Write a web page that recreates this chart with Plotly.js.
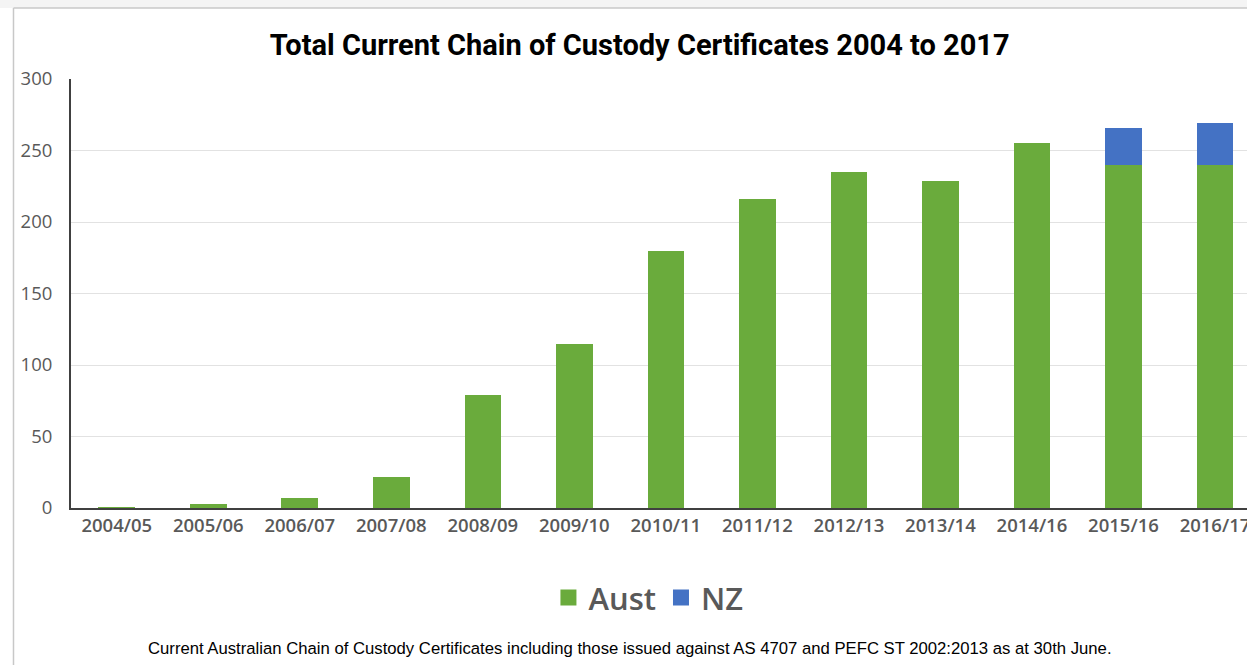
<!DOCTYPE html>
<html>
<head>
<meta charset="utf-8">
<script src="https://cdn.plot.ly/plotly-3.0.1.min.js"></script>
<style>
html,body{margin:0;padding:0;background:#fff;}
#chart{width:1247px;height:665px;}
</style>
</head>
<body>
<div id="chart"></div>
<script>
const categories = ["2004/05","2005/06","2006/07","2007/08","2008/09","2009/10","2010/11","2011/12","2012/13","2013/14","2014/16","2015/16","2016/17"];
const aust = [1, 3, 7, 22, 79, 115, 180, 216, 235, 229, 255, 240, 240];
const nz = [0, 0, 0, 0, 0, 0, 0, 0, 0, 0, 0, 26, 29];
const yTicks = [0, 50, 100, 150, 200, 250, 300];
const seriesNames = ["Aust", "NZ"];
const seriesColors = ["#6aab3c", "#4472c4"];
const titleText = "Total Current Chain of Custody Certificates 2004 to 2017";
const captionText = "Current Australian Chain of Custody Certificates including those issued against AS 4707 and PEFC ST 2002:2013 as at 30th June.";

const traces = [
  {type:'bar', name:seriesNames[0], x:categories, y:aust, marker:{color:seriesColors[0]}, showlegend:false},
  {type:'bar', name:seriesNames[1], x:categories, y:nz, marker:{color:seriesColors[1]}, showlegend:false},
  // legend entries with larger square swatches
  {type:'scatter', mode:'markers', name:seriesNames[0], x:[null], y:[null], marker:{symbol:'square', size:23, color:seriesColors[0]}, showlegend:true},
  {type:'scatter', mode:'markers', name:seriesNames[1], x:[null], y:[null], marker:{symbol:'square', size:23, color:seriesColors[1]}, showlegend:true}
];

const layout = {
  width:1247, height:665,
  margin:{l:71, r:0, t:79, b:157},
  paper_bgcolor:'#ffffff', plot_bgcolor:'#ffffff',
  barmode:'stack', bargap:0.6,
  showlegend:true,
  legend:{orientation:'h', xref:'container', yref:'container', x:0.52, xanchor:'center', y:0.101, yanchor:'middle',
    font:{family:'Open Sans, Noto Sans, sans-serif', size:31, color:'#595959', weight:600}, itemwidth:30, traceorder:'normal', itemsizing:'trace'},
  title:{text:titleText, xref:'container', yref:'container', x:0.513, xanchor:'center', y:0.932, yanchor:'middle',
    font:{family:'Roboto, sans-serif', size:29, color:'#000000', weight:700}},
  xaxis:{type:'category', range:[-0.5, 12.35], showgrid:false, showline:true, linecolor:'#404040', linewidth:2,
    ticks:'', tickfont:{family:'Open Sans, Noto Sans, sans-serif', size:18.5, color:'#595959', weight:600},
    ticklabelstandoff:0, fixedrange:true},
  yaxis:{range:[0,300], tickvals:yTicks, showgrid:true, gridcolor:'#e2e2e2', gridwidth:1, showline:true, linecolor:'#404040', linewidth:2,
    zeroline:false, ticks:'', tickfont:{family:'Open Sans, Noto Sans, sans-serif', size:18.5, color:'#595959'},
    ticklabelstandoff:13, fixedrange:true},
  shapes:[
    {type:'rect', xref:'paper', yref:'paper', x0:-0.07, x1:1.01, y0:1.1655, y1:1.19, line:{width:0}, fillcolor:'#f4f4f4', layer:'below'},
    {type:'line', xref:'paper', yref:'paper', x0:-0.0489, x1:1.01, y0:1.1655, y1:1.1655, line:{color:'#c8c8c8', width:1.5}},
    {type:'line', xref:'paper', yref:'paper', x0:-0.0489, x1:-0.0489, y0:1.1655, y1:-0.4, line:{color:'#c8c8c8', width:1.5}}
  ],
  annotations:[
    {text:captionText, xref:'paper', yref:'paper', x:0.4755, y:-0.327, xanchor:'center', yanchor:'middle', showarrow:false,
     font:{family:'Liberation Sans, Arial, sans-serif', size:16.7, color:'#000000'}}
  ]
};

Plotly.newPlot('chart', traces, layout, {displayModeBar:false, staticPlot:true});
</script>
</body>
</html>
